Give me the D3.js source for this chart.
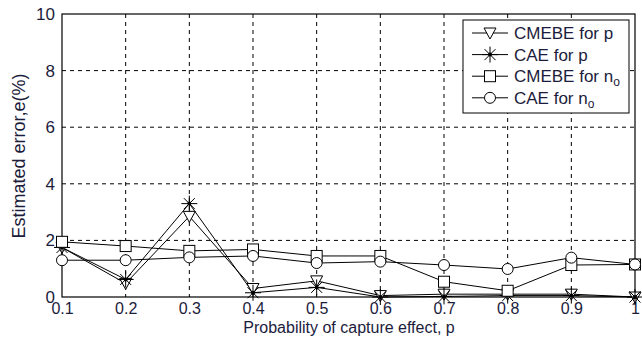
<!DOCTYPE html>
<html>
<head>
  <style>
    body { margin: 0; background: #fff; }
    text { font-family: "Liberation Sans", Arial, sans-serif; fill: #1c1c3c; }
    .tick text { font-size: 17px; }
    .xax .tick text { font-size: 16px; }
    .grid line { stroke: #000; stroke-dasharray: 4,4; stroke-width: 1; }
  </style>
</head>
<body>
<script src="https://cdn.jsdelivr.net/npm/d3@7"></script>
<script>
  var probs = [0.1, 0.2, 0.3, 0.4, 0.5, 0.6, 0.7, 0.8, 0.9, 1];
  var cmebeP = [1.75, 0.48, 2.85, 0.3, 0.57, 0.05, 0.1, 0.1, 0.1, 0.0];
  var caeP = [1.75, 0.62, 3.3, 0.15, 0.34, 0.0, 0.02, 0.05, 0.05, 0.0];
  var cmebeN = [1.95, 1.8, 1.63, 1.68, 1.45, 1.45, 0.54, 0.22, 1.13, 1.15];
  var caeN = [1.3, 1.3, 1.4, 1.45, 1.2, 1.25, 1.13, 0.99, 1.39, 1.15];
  var xTicks = [0.1, 0.2, 0.3, 0.4, 0.5, 0.6, 0.7, 0.8, 0.9, 1];
  var yTicks = [0, 2, 4, 6, 8, 10];

  var series = [
    { name: 'CMEBE for p', sub: null, values: cmebeP, marker: 'triangle' },
    { name: 'CAE for p', sub: null, values: caeP, marker: 'star' },
    { name: 'CMEBE for n', sub: 'o', values: cmebeN, marker: 'square' },
    { name: 'CAE for n', sub: 'o', values: caeN, marker: 'circle' }
  ];

  var W = 642, H = 339;
  var margin = { left: 62, right: 7, top: 14, bottom: 42 };
  var w = W - margin.left - margin.right, h = H - margin.top - margin.bottom;

  var svg = d3.select('body').append('svg').attr('width', W).attr('height', H);
  var g = svg.append('g').attr('transform', 'translate(' + margin.left + ',' + margin.top + ')');

  var x = d3.scaleLinear().domain([0.1, 1]).range([0, w]);
  var y = d3.scaleLinear().domain([0, 10]).range([h, 0]);

  // grid
  var grid = g.append('g').attr('class', 'grid');
  grid.selectAll('.vx').data(xTicks.slice(1, -1)).enter().append('line')
    .attr('x1', function(d) { return x(d); }).attr('x2', function(d) { return x(d); })
    .attr('y1', 0).attr('y2', h);
  grid.selectAll('.hy').data(yTicks.slice(1, -1)).enter().append('line')
    .attr('x1', 0).attr('x2', w)
    .attr('y1', function(d) { return y(d); }).attr('y2', function(d) { return y(d); });

  // axes
  var xAxis = g.append('g').attr('class', 'xax').attr('transform', 'translate(0,' + h + ')')
    .call(d3.axisBottom(x).tickValues(xTicks).tickSize(0).tickPadding(6)
      .tickFormat(function(d) { return d === 1 ? '1' : d3.format('.1f')(d); }));
  var yAxis = g.append('g')
    .call(d3.axisLeft(y).tickValues(yTicks).tickSize(0).tickPadding(7));
  xAxis.select('.domain').remove();
  yAxis.select('.domain').remove();
  xAxis.selectAll('text').attr('fill', null);
  yAxis.selectAll('text').attr('fill', null);

  g.append('rect').attr('x', 0).attr('y', 0).attr('width', w).attr('height', h)
    .attr('fill', 'none').attr('stroke', '#000').attr('stroke-width', 1.2);

  // marker drawing
  function drawMarker(sel, type) {
    if (type === 'triangle') {
      sel.append('path').attr('d', 'M-6,-5L6,-5L0,6Z')
        .attr('fill', '#fff').attr('stroke', '#000').attr('stroke-width', 1);
    } else if (type === 'square') {
      sel.append('rect').attr('x', -5.5).attr('y', -5.5).attr('width', 11).attr('height', 11)
        .attr('fill', '#fff').attr('stroke', '#000').attr('stroke-width', 1);
    } else if (type === 'circle') {
      sel.append('circle').attr('r', 5.5)
        .attr('fill', '#fff').attr('stroke', '#000').attr('stroke-width', 1);
    } else if (type === 'star') {
      sel.append('path').attr('d', 'M0,-8L0,8M-8,0L8,0M-5.5,-5.5L5.5,5.5M-5.5,5.5L5.5,-5.5')
        .attr('fill', 'none').attr('stroke', '#000').attr('stroke-width', 1);
      sel.append('circle').attr('r', 2).attr('fill', '#000');
    }
  }

  var line = d3.line()
    .x(function(d, i) { return x(probs[i]); })
    .y(function(d) { return y(d); });

  series.forEach(function(s) {
    g.append('path').datum(s.values).attr('d', line)
      .attr('fill', 'none').attr('stroke', '#000').attr('stroke-width', 1);
  });
  series.forEach(function(s) {
    g.selectAll(null).data(s.values).enter().append('g')
      .attr('transform', function(d, i) { return 'translate(' + x(probs[i]) + ',' + y(d) + ')'; })
      .each(function() { drawMarker(d3.select(this), s.marker); });
  });

  // legend
  var lg = svg.append('g').attr('transform', 'translate(463,20)');
  lg.append('rect').attr('width', 166).attr('height', 93)
    .attr('fill', '#fff').attr('stroke', '#000').attr('stroke-width', 1);
  series.forEach(function(s, i) {
    var row = lg.append('g').attr('transform', 'translate(0,' + (13 + i * 21.6) + ')');
    row.append('line').attr('x1', 9).attr('x2', 45).attr('y1', 0).attr('y2', 0)
      .attr('stroke', '#000').attr('stroke-width', 1);
    drawMarker(row.append('g').attr('transform', 'translate(27,0)'), s.marker);
    var t = row.append('text').attr('x', 51).attr('y', 6).style('font-size', '17px').text(s.name);
    if (s.sub) {
      t.append('tspan').attr('dy', 4).style('font-size', '12px').text(s.sub);
    }
  });

  // axis titles
  svg.append('text').attr('x', 349).attr('y', 333)
    .attr('text-anchor', 'middle').style('font-size', '16px')
    .text('Probability of capture effect, p');
  svg.append('text').attr('transform', 'translate(25,156) rotate(-90)')
    .attr('text-anchor', 'middle').style('font-size', '18px')
    .text('Estimated error,e(%)');
</script>
</body>
</html>
